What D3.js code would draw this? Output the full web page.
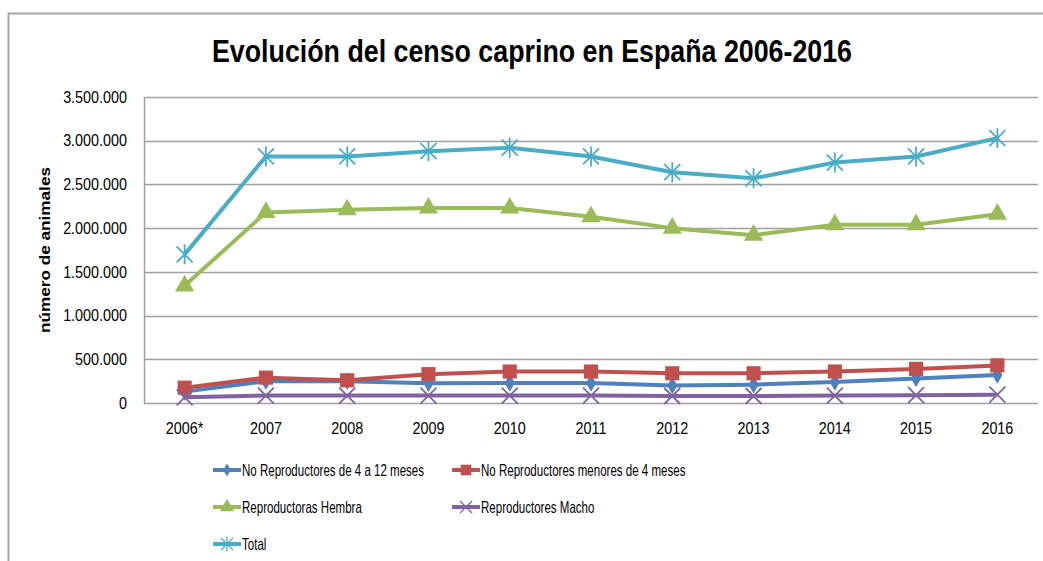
<!DOCTYPE html>
<html>
<head>
<meta charset="utf-8">
<script src="https://cdn.jsdelivr.net/npm/d3@7"></script>
<style>
  body { margin: 0; background: #fff; }
  text { font-family: "Liberation Sans", Arial, sans-serif; }
</style>
</head>
<body>
<div id="chart"></div>
<script>
// data
var years = ["2006*", "2007", "2008", "2009", "2010", "2011", "2012", "2013", "2014", "2015", "2016"];
var yTicks = [0, 500000, 1000000, 1500000, 2000000, 2500000, 3000000, 3500000];

var noRep4a12 = [130000, 250000, 250000, 225000, 230000, 230000, 200000, 210000, 240000, 280000, 320000];
var noRepMenores4 = [175000, 290000, 260000, 330000, 360000, 360000, 340000, 340000, 360000, 390000, 430000];
var repHembra = [1340000, 2180000, 2210000, 2230000, 2230000, 2130000, 2000000, 1920000, 2040000, 2040000, 2160000];
var repMacho = [65000, 85000, 85000, 85000, 85000, 85000, 80000, 80000, 85000, 90000, 95000];
var total = [1700000, 2820000, 2820000, 2880000, 2920000, 2820000, 2640000, 2570000, 2750000, 2820000, 3030000];

var seriesNames = ["No Reproductores de 4 a 12 meses", "No Reproductores menores de 4 meses",
    "Reproductoras Hembra", "Reproductores Macho", "Total"];

var series = [
    { name: seriesNames[0], values: noRep4a12, color: "#4f81bd", marker: "diamond" },
    { name: seriesNames[1], values: noRepMenores4, color: "#c0504d", marker: "square" },
    { name: seriesNames[2], values: repHembra, color: "#9bbb59", marker: "triangle" },
    { name: seriesNames[3], values: repMacho, color: "#8064a2", marker: "x" },
    { name: seriesNames[4], values: total, color: "#4bacc6", marker: "star" }
];

var width = 1043, height = 561;
var margin = { left: 144, right: 5, top: 97, bottom: 158 };

var svg = d3.select("#chart").append("svg")
    .attr("width", width)
    .attr("height", height);

// squeeze text horizontally, the original uses a narrow font (Calibri)
function squeeze(sel, factor) {
    sel.each(function() {
        var w = this.getComputedTextLength();
        d3.select(this)
            .attr("textLength", w * factor)
            .attr("lengthAdjust", "spacingAndGlyphs");
    });
}

// outer frame (only top and left are visible)
svg.append("path")
    .attr("d", "M8.5," + height + "V13.5H" + width)
    .attr("fill", "none")
    .attr("stroke", "#a6a6a6")
    .attr("stroke-width", 2);

var title = svg.append("text")
    .attr("x", 532)
    .attr("y", 62)
    .attr("text-anchor", "middle")
    .style("font-size", "31px")
    .style("font-weight", "bold")
    .text("Evolución del censo caprino en España 2006-2016");
title.attr("textLength", 640).attr("lengthAdjust", "spacingAndGlyphs");

var x = d3.scaleBand()
    .domain(years)
    .range([margin.left, width - margin.right]);

var y = d3.scaleLinear()
    .domain([0, 3500000])
    .range([height - margin.bottom, margin.top]);

var fmt = function(d) {
    return d3.format(",")(d).replace(/,/g, ".");
};

// gridlines
svg.append("g")
    .selectAll("line")
    .data(yTicks)
    .enter()
    .append("line")
    .attr("x1", margin.left)
    .attr("x2", width - margin.right)
    .attr("y1", function(d) { return Math.round(y(d)) + 0.5; })
    .attr("y2", function(d) { return Math.round(y(d)) + 0.5; })
    .attr("stroke", "#a0a0a0")
    .attr("stroke-width", 1.5);

// y axis line
svg.append("line")
    .attr("x1", margin.left + 0.5)
    .attr("x2", margin.left + 0.5)
    .attr("y1", y(3500000))
    .attr("y2", y(0))
    .attr("stroke", "#a0a0a0")
    .attr("stroke-width", 1.5);

var yAxis = svg.append("g")
    .attr("transform", "translate(" + margin.left + ",0)")
    .call(d3.axisLeft(y).tickValues(yTicks).tickFormat(fmt).tickSize(0).tickPadding(17));
yAxis.select(".domain").remove();
yAxis.selectAll("text")
    .style("font-size", "16.5px")
    .style("font-family", "\"Liberation Sans\", Arial, sans-serif")
    .attr("fill", "#000")
    .call(squeeze, 0.87);

var xAxis = svg.append("g")
    .attr("transform", "translate(0," + y(0) + ")")
    .call(d3.axisBottom(x).tickSize(0).tickPadding(19));
xAxis.select(".domain").remove();
xAxis.selectAll("text")
    .style("font-size", "16.5px")
    .style("font-family", "\"Liberation Sans\", Arial, sans-serif")
    .attr("fill", "#000")
    .call(squeeze, 0.87);

svg.append("text")
    .attr("transform", "translate(50,250) rotate(-90)")
    .attr("text-anchor", "middle")
    .style("font-size", "15px")
    .style("font-weight", "bold")
    .attr("textLength", 166)
    .attr("lengthAdjust", "spacingAndGlyphs")
    .text("número de animales");

var line = d3.line()
    .x(function(d, i) { return x(years[i]) + x.bandwidth() / 2; })
    .y(function(d) { return y(d); });

function markerPath(type) {
    if (type == "diamond") return d3.symbol().type(d3.symbolDiamond).size(90)();
    if (type == "square") return d3.symbol().type(d3.symbolSquare).size(200)();
    if (type == "triangle") return d3.symbol().type(d3.symbolTriangle).size(160)();
    if (type == "x") return "M-8,-8L8,8M-8,8L8,-8";
    return "M-8,-8L8,8M-8,8L8,-8M0,-10V10";
}

function drawMarker(g, type, color) {
    var filled = type == "diamond" || type == "square" || type == "triangle";
    g.append("path")
        .attr("d", markerPath(type))
        .attr("fill", filled ? color : "none")
        .attr("stroke", color)
        .attr("stroke-width", filled ? 0 : 1.8);
}

series.forEach(function(s) {
    svg.append("path")
        .datum(s.values)
        .attr("d", line)
        .attr("fill", "none")
        .attr("stroke", s.color)
        .attr("stroke-width", 4)
        .attr("stroke-linejoin", "round");

    s.values.forEach(function(v, i) {
        var g = svg.append("g")
            .attr("transform", "translate(" + (x(years[i]) + x.bandwidth() / 2) + "," + y(v) + ")");
        drawMarker(g, s.marker, s.color);
    });
});

// legend
var legendPos = [[213, 470], [452, 470], [213, 507], [452, 507], [213, 544]];

series.forEach(function(s, i) {
    var lx = legendPos[i][0], ly = legendPos[i][1];
    var g = svg.append("g").attr("transform", "translate(" + lx + "," + ly + ")");
    g.append("line")
        .attr("x1", 0).attr("x2", 28)
        .attr("y1", 0).attr("y2", 0)
        .attr("stroke", s.color)
        .attr("stroke-width", 4);
    var m = g.append("g").attr("transform", "translate(14,0) scale(0.75)");
    drawMarker(m, s.marker, s.color);
    g.append("text")
        .attr("x", 29)
        .attr("y", 6)
        .style("font-size", "16.5px")
        .text(s.name);
});

var legendTexts = svg.selectAll("g text").filter(function() {
    return seriesNames.indexOf(this.textContent) >= 0;
});
var natural = legendTexts.filter(function() { return this.textContent == seriesNames[0]; }).node().getComputedTextLength();
legendTexts.call(squeeze, 182 / natural);
</script>
</body>
</html>
